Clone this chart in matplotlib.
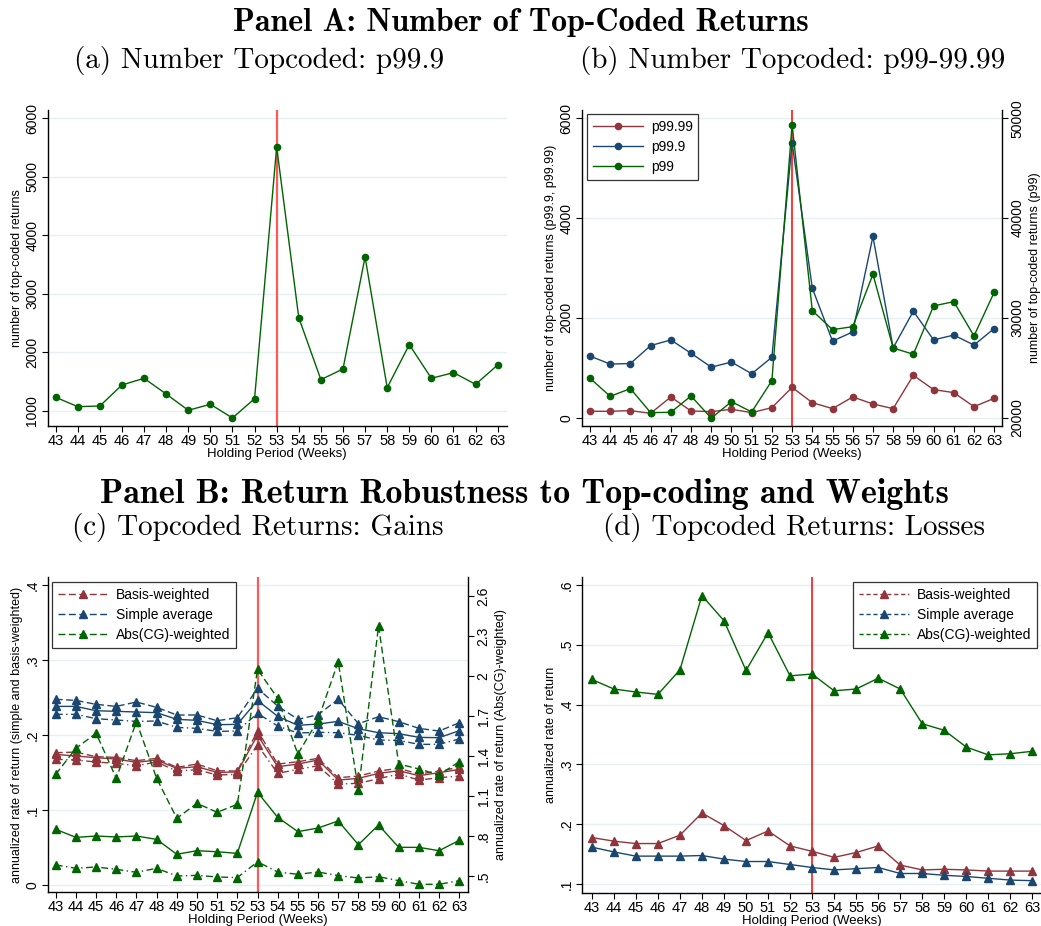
import numpy as np
import matplotlib
matplotlib.use('Agg')
import matplotlib.pyplot as plt
from matplotlib.lines import Line2D

plt.rcParams['font.family'] = ['Liberation Sans', 'DejaVu Sans']
plt.rcParams['axes.linewidth'] = 1.0

weeks = list(range(43, 64))

# Panel A: number of top-coded returns
n_p999 = [1234, 1074, 1085, 1444, 1558, 1290, 1012, 1114, 880, 1210, 5509,
          2594, 1535, 1717, 3630, 1398, 2133, 1558, 1655, 1455, 1786]
n_p9999 = [128, 128, 141, 88, 415, 134, 121, 168, 101, 201, 608,
           301, 181, 415, 275, 181, 849, 562, 502, 221, 388]
n_p99 = [23944, 22140, 22910, 20505, 20538, 22174, 19950, 21606, 20571, 23711, 49359,
         30723, 28818, 29118, 34365, 26984, 26349, 31192, 31626, 28186, 32562]

# Panel B (c): gains, each series with upper / main / lower variants
basis_hi = [0.1764, 0.1773, 0.1711, 0.1702, 0.1658, 0.1689, 0.1569, 0.1613, 0.1524, 0.1520, 0.2058,
            0.1613, 0.1644, 0.1689, 0.1431, 0.1453, 0.1520, 0.1556, 0.1480, 0.1520, 0.1569]
basis_mid = [0.1742, 0.1720, 0.1698, 0.1680, 0.1636, 0.1667, 0.1556, 0.1578, 0.1502, 0.1507, 0.2000,
             0.1578, 0.1613, 0.1667, 0.1400, 0.1422, 0.1489, 0.1524, 0.1458, 0.1498, 0.1542]
basis_lo = [0.1676, 0.1667, 0.1640, 0.1622, 0.1591, 0.1640, 0.1520, 0.1538, 0.1467, 0.1476, 0.1867,
            0.1489, 0.1542, 0.1591, 0.1347, 0.1356, 0.1418, 0.1480, 0.1400, 0.1431, 0.1453]
simple_hi = [0.2476, 0.2462, 0.2409, 0.2382, 0.2440, 0.2369, 0.2267, 0.2267, 0.2191, 0.2231, 0.2622,
             0.2387, 0.2209, 0.2271, 0.2476, 0.2151, 0.2244, 0.2178, 0.2089, 0.2053, 0.2164]
simple_mid = [0.2382, 0.2382, 0.2324, 0.2316, 0.2307, 0.2298, 0.2209, 0.2196, 0.2138, 0.2142, 0.2462,
              0.2249, 0.2129, 0.2147, 0.2182, 0.2084, 0.2031, 0.2018, 0.1969, 0.1964, 0.2058]
simple_lo = [0.2276, 0.2276, 0.2218, 0.2200, 0.2182, 0.2187, 0.2102, 0.2089, 0.2049, 0.2053, 0.2289,
             0.2120, 0.2027, 0.2036, 0.2031, 0.1996, 0.1933, 0.1929, 0.1876, 0.1876, 0.1947]
abscg_hi = [1.263, 1.458, 1.571, 1.233, 1.658, 1.233, 0.933, 1.045, 0.978, 1.038, 2.050,
            1.833, 1.415, 1.670, 2.108, 1.145, 2.375, 1.340, 1.303, 1.258, 1.358]
abscg_mid = [0.850, 0.790, 0.800, 0.793, 0.800, 0.775, 0.663, 0.690, 0.682, 0.670, 1.128,
             0.940, 0.833, 0.860, 0.913, 0.735, 0.883, 0.715, 0.715, 0.690, 0.768]
abscg_lo = [0.583, 0.558, 0.568, 0.550, 0.528, 0.558, 0.500, 0.505, 0.493, 0.488, 0.607,
            0.530, 0.513, 0.530, 0.503, 0.485, 0.495, 0.465, 0.438, 0.438, 0.465]

# Panel B (d): losses
loss_basis = [0.178, 0.172, 0.168, 0.168, 0.182, 0.219, 0.198, 0.173, 0.189, 0.164, 0.155,
              0.145, 0.153, 0.164, 0.132, 0.124, 0.125, 0.124, 0.122, 0.122, 0.122]
loss_simple = [0.162, 0.154, 0.147, 0.147, 0.147, 0.148, 0.142, 0.138, 0.138, 0.133, 0.128,
               0.124, 0.126, 0.128, 0.118, 0.118, 0.115, 0.113, 0.110, 0.107, 0.106]
loss_abscg = [0.442, 0.426, 0.421, 0.417, 0.458, 0.582, 0.540, 0.457, 0.520, 0.448, 0.451,
              0.423, 0.426, 0.444, 0.426, 0.368, 0.357, 0.329, 0.316, 0.318, 0.322]

ticks_a = [1000, 2000, 3000, 4000, 5000, 6000]
ticks_b = [0, 2000, 4000, 6000]
ticks_b2 = [20000, 30000, 40000, 50000]
ticks_c = [0, 0.1, 0.2, 0.3, 0.4]
ticklab_c = ['0', '.1', '.2', '.3', '.4']
ticks_c2 = [0.5, 0.8, 1.1, 1.4, 1.7, 2.0, 2.3, 2.6]
ticklab_c2 = ['.5', '.8', '1.1', '1.4', '1.7', '2', '2.3', '2.6']
ticks_d = [0.1, 0.2, 0.3, 0.4, 0.5, 0.6]
ticklab_d = ['.1', '.2', '.3', '.4', '.5', '.6']

RED = '#90353B'
BLUE = '#1A476F'
GREEN = '#006400'
GRID = '#E6EFF1'
DASH = (0, (5, 2.5))
DASHDOT = (0, (5, 2.5, 1, 2.5))


def style(ax, xlim, ylim, yticks, ylabels=None):
    ax.set_xlim(*xlim)
    ax.set_ylim(*ylim)
    ax.set_xticks(weeks)
    ax.set_yticks(yticks)
    if ylabels is not None:
        ax.set_yticklabels(ylabels)
    for s in ['top', 'right']:
        ax.spines[s].set_visible(False)
    ax.tick_params(axis='x', labelsize=10.5, length=4, pad=2)
    ax.tick_params(axis='y', labelsize=10, length=4, pad=2)
    for lab in ax.get_yticklabels():
        lab.set_rotation(90)
        lab.set_va('center')
    for t in yticks:
        ax.axhline(t, color=GRID, lw=1.0, zorder=0)
    ax.set_xlabel('Holding Period (Weeks)', fontsize=9.5, labelpad=0)


def right_axis(ax, ylim, yticks, ylabels=None):
    ax2 = ax.twinx()
    ax2.set_ylim(*ylim)
    ax2.set_yticks(yticks)
    if ylabels is not None:
        ax2.set_yticklabels(ylabels)
    for s in ['top', 'left', 'bottom']:
        ax2.spines[s].set_visible(False)
    ax2.tick_params(axis='y', labelsize=10, length=4, pad=2)
    for lab in ax2.get_yticklabels():
        lab.set_rotation(90)
        lab.set_va('center')
    return ax2


def boxed_legend(ax, handles, labels, loc, anchor):
    leg = ax.legend(handles, labels, loc=loc, bbox_to_anchor=anchor, fontsize=10,
                    frameon=True, fancybox=False, handlelength=3.6, borderpad=0.4,
                    labelspacing=0.45, handletextpad=0.6, borderaxespad=0)
    leg.get_frame().set_edgecolor('black')
    leg.get_frame().set_linewidth(0.9)
    leg.set_zorder(5)
    return leg


fig = plt.figure(figsize=(10.41, 9.26), dpi=100)

# (a)
ax_a = fig.add_axes([0.0458, 0.540, 0.441, 0.3413])
style(ax_a, (42.64, 63.41), (744, 6142), ticks_a)
ax_a.axvline(53, color='#FF5A5A', lw=1.6, zorder=1)
ax_a.plot(weeks, n_p999, color=GREEN, lw=1.0, marker='o', ms=4.5, zorder=3)
ax_a.set_ylabel('number of top-coded returns', fontsize=9, labelpad=2)

# (b)
ax_b = fig.add_axes([0.5588, 0.540, 0.404, 0.3413])
style(ax_b, (42.59, 63.4), (-166, 6166), ticks_b)
ax_b.axvline(53, color='red', lw=1.1, zorder=1)
ax_b.set_ylabel('number of top-coded returns (p99.9, p99.99)', fontsize=9, labelpad=2)
ax_b2 = right_axis(ax_b, (19170, 50830), ticks_b2)
ax_b2.set_ylabel('number of top-coded returns (p99)', fontsize=9, labelpad=3, rotation=90)
l1, = ax_b.plot(weeks, n_p9999, color=RED, lw=1.0, marker='o', ms=4.5, zorder=3)
l2, = ax_b.plot(weeks, n_p999, color=BLUE, lw=1.0, marker='o', ms=4.5, zorder=3)
l3, = ax_b2.plot(weeks, n_p99, color=GREEN, lw=1.0, marker='o', ms=4.5, zorder=3)
boxed_legend(ax_b, [l1, l2, l3], ['p99.99', 'p99.9', 'p99'], 'upper left', (0.0126, 0.987))

# (c)
ax_c = fig.add_axes([0.0458, 0.0367, 0.4041, 0.3402])
style(ax_c, (42.6, 63.45), (-0.0093, 0.4107), ticks_c, ticklab_c)
ax_c.axvline(53, color='#FF5A5A', lw=1.6, zorder=1)
ax_c.set_ylabel('annualized rate of return (simple and basis-weighted)', fontsize=9, labelpad=2)
ax_c2 = right_axis(ax_c, (0.38, 2.743), ticks_c2, ticklab_c2)
ax_c2.set_ylabel('annualized rate of return (Abs(CG)-weighted)', fontsize=9, labelpad=3, rotation=90)
mk = dict(marker='^', ms=6, lw=1.0, zorder=3)
for ax, hi, mid, lo, col in [(ax_c, basis_hi, basis_mid, basis_lo, RED),
                             (ax_c, simple_hi, simple_mid, simple_lo, BLUE),
                             (ax_c2, abscg_hi, abscg_mid, abscg_lo, GREEN)]:
    ax.plot(weeks, hi, color=col, ls=DASH, **mk)
    ax.plot(weeks, mid, color=col, ls='-', **mk)
    ax.plot(weeks, lo, color=col, ls=DASHDOT, **mk)

names = ['Basis-weighted', 'Simple average', 'Abs(CG)-weighted']
handles = [Line2D([], [], color=c, ls=DASH, marker='^', ms=5.5, lw=1.0) for c in (RED, BLUE, GREEN)]
boxed_legend(ax_c, handles, names, 'upper left', (0.0102, 0.984))

# (d)
ax_d = fig.add_axes([0.5594, 0.036, 0.4406, 0.3409])
style(ax_d, (42.57, 63.39), (0.086, 0.613), ticks_d, ticklab_d)
ax_d.axvline(53, color='red', lw=1.1, zorder=1)
ax_d.set_ylabel('annualized rate of return', fontsize=9, labelpad=2)
ax_d.plot(weeks, loss_basis, color=RED, ls='-', **mk)
ax_d.plot(weeks, loss_simple, color=BLUE, ls='-', **mk)
ax_d.plot(weeks, loss_abscg, color=GREEN, ls='-', **mk)
handles = [Line2D([], [], color=c, ls=(0, (3, 2)), marker='^', ms=5.5, lw=1.0) for c in (RED, BLUE, GREEN)]
boxed_legend(ax_d, handles, names, 'upper right', (0.991, 0.984))

# headings
fig.text(0.5, 0.976, 'Panel A: Number of Top-Coded Returns', family='cmb10', fontsize=23,
         ha='center', va='center')
fig.text(0.249, 0.935, '(a) Number Topcoded: p99.9', family='cmr10', fontsize=21,
         ha='center', va='center')
fig.text(0.761, 0.935, '(b) Number Topcoded: p99-99.99', family='cmr10', fontsize=21,
         ha='center', va='center')
fig.text(0.504, 0.4665, 'Panel B: Return Robustness to Top-coding and Weights', family='cmb10',
         fontsize=24.5, ha='center', va='center')
fig.text(0.248, 0.43, '(c) Topcoded Returns: Gains', family='cmr10', fontsize=21,
         ha='center', va='center')
fig.text(0.763, 0.43, '(d) Topcoded Returns: Losses', family='cmr10', fontsize=21,
         ha='center', va='center')

fig.savefig('out.png', dpi=100)
